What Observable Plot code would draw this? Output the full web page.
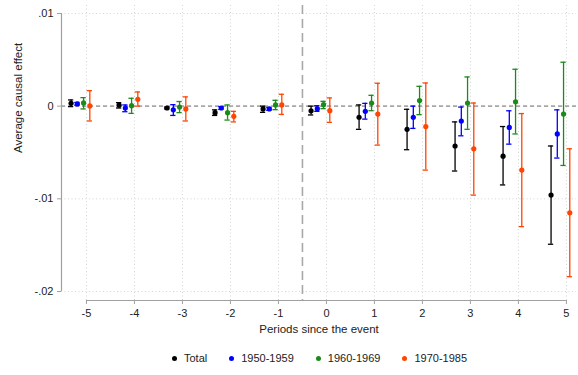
<!DOCTYPE html>
<html><head><meta charset="utf-8">
<script src="https://cdn.jsdelivr.net/npm/d3@7"></script>
<script src="https://cdn.jsdelivr.net/npm/@observablehq/plot@0.6"></script>
<style>
html,body{margin:0;padding:0;background:#fff;font-family:"Liberation Sans",Arial,sans-serif;}
#chart svg{display:block;}
#legend{display:flex;justify-content:center;align-items:center;padding-left:61px;margin-top:12px;height:12px;font-size:11px;color:#222;}
#legend .item{display:flex;align-items:center;margin:0 11px;}
#legend .sw{width:5px;height:5px;border-radius:50%;margin-right:7px;}
</style></head>
<body><div id="chart"></div><div id="legend"></div>
<script>
const periods = [-5,-4,-3,-2,-1,0,1,2,3,4,5];
const seriesNames = ["Total","1950-1959","1960-1969","1970-1985"];
const seriesColors = ["#000000","#0000ff","#1a8a1a","#ff4500"];
const seriesOffsets = [-0.32,-0.19,-0.06,0.07];

const totalEst = [0.0003,0.0001,-0.0002,-0.0007,-0.0003,-0.0005,-0.0012,-0.0025,-0.0043,-0.0054,-0.0096];
const totalLo  = [-0.00005,-0.0002,-0.0003,-0.001,-0.00067,-0.00095,-0.0025,-0.0047,-0.0070,-0.0085,-0.0149];
const totalHi  = [0.00067,0.00038,-0.0001,-0.0004,0.0,0.0,0.00013,-0.00034,-0.0017,-0.0022,-0.0043];

const s50Est = [0.00024,-0.0002,-0.0004,-0.0002,-0.0003,-0.00027,-0.00056,-0.0012,-0.0016,-0.0023,-0.0030];
const s50Lo  = [0.0001,-0.0006,-0.001,-0.00035,-0.00045,-0.00056,-0.0014,-0.0024,-0.0032,-0.0041,-0.0056];
const s50Hi  = [0.0004,0.00013,0.00016,-0.00005,-0.00015,0.00005,0.0003,0.0,-0.0001,-0.0005,-0.0004];

const s60Est = [0.00035,0.00005,-0.0001,-0.0007,0.00013,0.00016,0.00034,0.0006,0.00034,0.00047,-0.00085];
const s60Lo  = [-0.0003,-0.00078,-0.0007,-0.0015,-0.00038,-0.00027,-0.00049,-0.00092,-0.0025,-0.003,-0.0064];
const s60Hi  = [0.00092,0.00085,0.0005,0.00013,0.00063,0.00052,0.00117,0.00214,0.00315,0.00398,0.00474];

const s70Est = [0.00002,0.00074,-0.0003,-0.0011,0.00013,-0.00049,-0.00085,-0.0022,-0.0046,-0.0069,-0.0115];
const s70Lo  = [-0.0016,0.0,-0.0016,-0.0017,-0.00089,-0.00175,-0.0042,-0.0069,-0.0096,-0.013,-0.0184];
const s70Hi  = [0.00167,0.00153,0.001,-0.00056,0.00128,0.00089,0.00247,0.0025,0.00034,-0.0008,-0.0046];

const xTicks = periods;
const yTicks = [0.01,0,-0.01,-0.02];
const yTickLabels = [".01","0","-.01","-.02"];
const yLabel = "Average causal effect";
const xLabel = "Periods since the event";

const seriesData = [[totalEst,totalLo,totalHi],[s50Est,s50Lo,s50Hi],[s60Est,s60Lo,s60Hi],[s70Est,s70Lo,s70Hi]];
const rows = [];
seriesNames.forEach((name,si)=>{
  const [e,l,h] = seriesData[si];
  periods.forEach((p,pi)=>{
    rows.push({series:name, period:p, x:p+seriesOffsets[si], est:e[pi], lo:l[pi], hi:h[pi]});
  });
});

const cap = 0.055;
const yMin = -0.02097, yMax = 0.01086;
const axisColor = "#a0a0a0";

const chart = Plot.plot({
  width:578, height:340,
  marginLeft:61, marginRight:2, marginTop:5, marginBottom:40,
  style:{fontFamily:"Liberation Sans, Arial, sans-serif", fontSize:"11px", color:"#333", background:"#fff"},
  x:{domain:[-5.52,5.21]},
  y:{domain:[yMin,yMax]},
  color:{domain:seriesNames, range:seriesColors},
  marks:[
    Plot.ruleX(xTicks,{stroke:"#d4d4d4", strokeDasharray:"1,2.5"}),
    Plot.ruleY(yTicks,{stroke:"#d4d4d4", strokeDasharray:"1,2.5"}),
    Plot.ruleY([0],{stroke:"#a8a8a8", strokeDasharray:"4,3", strokeWidth:1.6}),
    Plot.ruleX([-0.5],{stroke:"#a8a8a8", strokeDasharray:"9,5", strokeWidth:1.6}),
    Plot.ruleX([-5.52],{y1:-0.02, y2:0.01, stroke:axisColor, strokeWidth:1.2}),
    Plot.ruleY([yMin],{x1:-5, x2:5, stroke:axisColor, strokeWidth:1.2}),
    Plot.axisY(yTicks,{tickFormat:d=>yTickLabels[yTicks.indexOf(d)], tickSize:4, tickPadding:4, stroke:axisColor, fill:"#222", label:null}),
    Plot.axisX(xTicks,{tickFormat:d=>String(d), tickSize:4, tickPadding:5, stroke:axisColor, fill:"#222", label:null}),
    Plot.text([yLabel],{frameAnchor:"left", dx:-43, rotate:-90, fill:"#222", fontSize:11.5}),
    Plot.text([xLabel],{frameAnchor:"bottom", dy:32, fill:"#222", fontSize:11.5}),
    Plot.ruleX(rows,{x:"x", y1:"lo", y2:"hi", stroke:"series", strokeWidth:1.3}),
    Plot.ruleY(rows,{y:"hi", x1:d=>d.x-cap, x2:d=>d.x+cap, stroke:"series", strokeWidth:1.3}),
    Plot.ruleY(rows,{y:"lo", x1:d=>d.x-cap, x2:d=>d.x+cap, stroke:"series", strokeWidth:1.3}),
    Plot.dot(rows,{x:"x", y:"est", fill:"series", r:2.6})
  ]
});
document.getElementById("chart").appendChild(chart);

const legend = document.getElementById("legend");
seriesNames.forEach((name,i)=>{
  const item = document.createElement("div");
  item.className = "item";
  const sw = document.createElement("span");
  sw.className = "sw";
  sw.style.background = seriesColors[i];
  const t = document.createElement("span");
  t.textContent = name;
  item.appendChild(sw); item.appendChild(t);
  legend.appendChild(item);
});
</script>
</body></html>
